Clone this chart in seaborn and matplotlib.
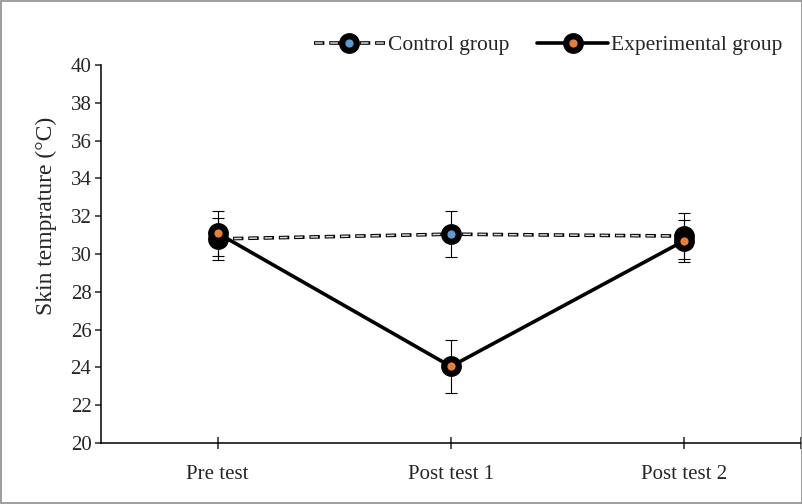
import matplotlib
matplotlib.use('Agg')
import matplotlib.pyplot as plt
import pandas as pd
import seaborn as sns
from matplotlib.lines import Line2D

phases = ['Pre test', 'Post test 1', 'Post test 2']
control_mean = [30.8, 31.05, 30.95]
control_err = [1.1, 1.2, 1.2]
experimental_mean = [31.1, 24.05, 30.7]
experimental_err = [1.2, 1.4, 1.1]
y_ticks = list(range(20, 41, 2))

sns.set_style('ticks')
plt.rcParams['font.family'] = ['Liberation Serif', 'DejaVu Serif']
plt.rcParams['lines.scale_dashes'] = False

data = pd.DataFrame({
    'phase': phases * 2,
    'pos': [0, 1, 2] * 2,
    'temp': control_mean + experimental_mean,
    'err': control_err + experimental_err,
    'group': ['Control group'] * 3 + ['Experimental group'] * 3,
})
control = data[data.group == 'Control group']
experimental = data[data.group == 'Experimental group']

fig = plt.figure(figsize=(8.03, 5.04), dpi=100)
ax = fig.add_axes([0.126, 0.121, 0.871, 0.750])

# error bars behind everything
for part in (control, experimental):
    ax.errorbar(part.pos, part.temp, yerr=part.err, fmt='none', ecolor='black',
                elinewidth=0.8, capsize=4.5, capthick=0.8, zorder=1)

black_dash = (0, (7.5, 3.5))
gray_dash = (10.25, (5.5, 5.5))
marker_kw = dict(marker='o', markersize=10.5, markeredgewidth=4.5, markeredgecolor='black')

# control group: outlined dashed line
sns.lineplot(data=control, x='pos', y='temp', ax=ax, color='black', linewidth=2.6,
             linestyle=black_dash, zorder=2)
sns.lineplot(data=control, x='pos', y='temp', ax=ax, color='#dadada', linewidth=1.1,
             linestyle=gray_dash, zorder=3)
sns.lineplot(data=control, x='pos', y='temp', ax=ax, linestyle='none',
             markerfacecolor='#5b9bd5', zorder=4, **marker_kw)

# experimental group: solid line
sns.lineplot(data=experimental, x='pos', y='temp', ax=ax, color='black', linewidth=2.6,
             markerfacecolor='#ed7d31', zorder=5, **marker_kw)

ax.set_xlim(-0.5, 2.5)
ax.set_ylim(20, 40)
ax.set_yticks(y_ticks)
ax.set_xticks([0, 1, 2, 2.5])
ax.set_xticklabels(phases + [''])
ax.tick_params(axis='x', direction='inout', length=8, width=1.1, labelsize=15, pad=12)
ax.tick_params(axis='y', direction='out', length=4, width=1.1, labelsize=15, pad=3)
ax.set_xlabel('')
ax.set_ylabel('Skin temprature (°C)', fontsize=17, labelpad=6)
ax.yaxis.set_label_coords(-0.063, 0.6)
for side in ('top', 'right'):
    ax.spines[side].set_visible(False)
for side in ('left', 'bottom'):
    ax.spines[side].set_linewidth(1.1)
    ax.spines[side].set_color('black')

handles = [
    (Line2D([], [], color='black', linewidth=2.6, linestyle=black_dash),
     Line2D([], [], color='#dadada', linewidth=1.1, linestyle=gray_dash),
     Line2D([], [], linestyle='none', markerfacecolor='#5b9bd5', **marker_kw)),
    Line2D([], [], color='black', linewidth=2.6, markerfacecolor='#ed7d31', **marker_kw),
]
fig.legend(handles, ['Control group', 'Experimental group'], loc='center right',
           bbox_to_anchor=(0.999, 0.91), ncol=2, frameon=False, fontsize=15.5,
           handlelength=3.3, handletextpad=0.15, columnspacing=1.3)

fig.add_artist(plt.Rectangle((0.0015, 0.002), 0.997, 0.996, transform=fig.transFigure,
                             fill=False, edgecolor='#8c8c8c', linewidth=1.2))

fig.savefig('out.png', dpi=100)
